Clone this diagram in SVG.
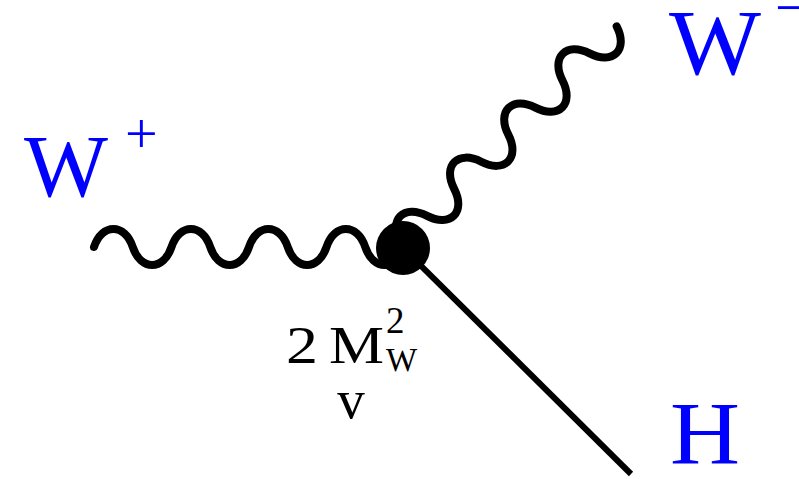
<svg xmlns="http://www.w3.org/2000/svg" width="799" height="479" viewBox="0 0 799 479">
<style>
.photon{fill:none;stroke:#000;stroke-width:8;stroke-linecap:round;stroke-linejoin:round}
.scalar{fill:none;stroke:#000;stroke-width:6;stroke-linecap:butt}
.lbl{font-family:"Liberation Serif","Times New Roman",serif;fill:#0000ff}
.coup{font-family:"Liberation Serif","Times New Roman",serif;fill:#000}
</style>
<rect width="799" height="479" fill="#fff"/>
<g id="connectors">
<path id="wplus-line" class="photon" d="M94,247 c8,-24 30.75,-24 38.75,0 s30.75,24 38.75,0 s30.75,-24 38.75,0 s30.75,24 38.75,0 s30.75,-24 38.75,0 s30.75,24 38.75,0 s30.75,-24 38.75,0 s30.75,24 38.75,0"/>
<path id="wminus-line" class="photon" transform="rotate(-45 400 243)" d="M400,243 c8,-25 30.3,-25 38.3,0 s30.3,25 38.3,0 s30.3,-25 38.3,0 s30.3,25 38.3,0 s30.3,-25 38.3,0 s30.3,25 38.3,0 s30.3,-25 38.3,0 s30.3,25 38.3,0"/>
<line id="h-line" class="scalar" x1="403" y1="248" x2="631" y2="474"/>
</g>
<g id="vertex">
<circle cx="403" cy="248" r="27" fill="#000"/>
</g>
<g id="label-wplus">
<text class="lbl" x="24" y="196" font-size="89">W</text>
<text class="lbl" x="125" y="153" font-size="58">+</text>
</g>
<g id="label-wminus">
<text class="lbl" x="669" y="74" font-size="93" textLength="92" lengthAdjust="spacingAndGlyphs">W</text>
<text class="lbl" x="775" y="27" font-size="58">−</text>
</g>
<g id="label-h">
<text class="lbl" x="670" y="463" font-size="88" textLength="70" lengthAdjust="spacingAndGlyphs">H</text>
</g>
<g id="coupling">
<text class="coup" x="286" y="363" font-size="52" textLength="32" lengthAdjust="spacingAndGlyphs">2</text>
<text class="coup" x="329" y="363" font-size="52" textLength="55" lengthAdjust="spacingAndGlyphs">M</text>
<text class="coup" x="386" y="333" font-size="37">2</text>
<text class="coup" x="386" y="371" font-size="33">W</text>
<text class="coup" x="351" y="418" font-size="55" text-anchor="middle">v</text>
</g>
</svg>
